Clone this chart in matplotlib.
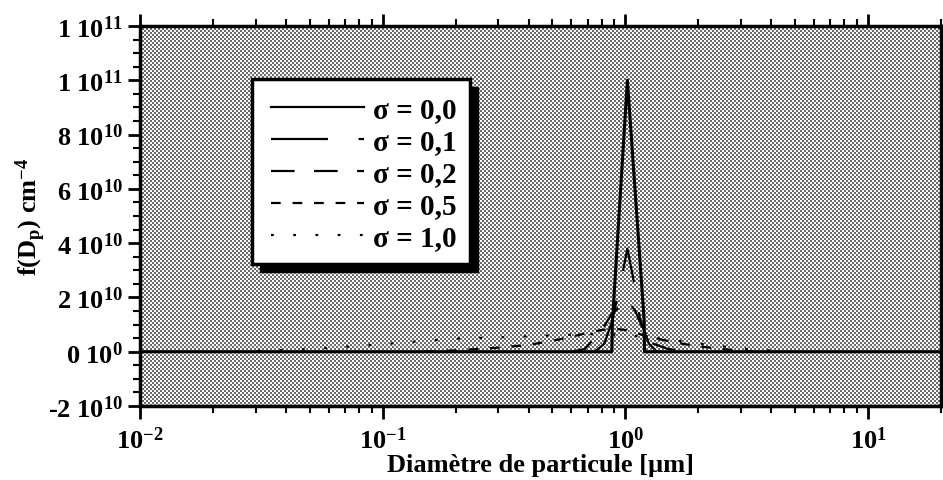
import numpy as np
import matplotlib
matplotlib.use("Agg")
import matplotlib.pyplot as plt
from matplotlib.ticker import MultipleLocator, FuncFormatter, LogLocator
from matplotlib.patches import Rectangle

plt.rcParams["font.family"] = ["Liberation Serif", "DejaVu Serif"]
plt.rcParams["font.weight"] = "bold"
plt.rcParams["mathtext.fontset"] = "custom"
plt.rcParams["mathtext.rm"] = "Liberation Serif:bold"
plt.rcParams["mathtext.it"] = "Liberation Serif:bold"
plt.rcParams["mathtext.default"] = "rm"
plt.rcParams["lines.scale_dashes"] = False

# --- données (D en µm, f(Dp) en cm^-4) ---
d_s00 = [0.01, 0.88, 0.885, 1.02, 1.195, 1.2, 20]
f_s00 = [0, 0, 1.1e10, 1.0e11, 1.2e10, 0, 0]

d_s01 = [0.75, 0.82, 0.88, 0.95, 1.02, 1.1, 1.15, 1.25, 1.35]
f_s01 = [0, 3e9, 1.1e10, 2.4e10, 3.8e10, 2.3e10, 1.2e10, 3e9, 0]

d_s02 = [0.6, 0.68, 0.8, 0.88, 1.02, 1.1, 1.2, 1.3, 1.5, 1.8]
f_s02 = [0, 1e9, 8e9, 1.4e10, 1.9e10, 1.5e10, 7e9, 3e9, 1e9, 0]

d_s05 = [0.15, 0.2, 0.3, 0.4, 0.5, 0.6, 0.7, 0.8, 0.9, 1.0, 1.2, 1.4, 1.7, 2.0, 2.5, 3.0, 3.5]
f_s05 = [0, 5e8, 1.5e9, 2.5e9, 4e9, 5.5e9, 7e9, 8e9, 8.5e9, 8e9, 6e9, 4.5e9, 3e9, 2e9, 1e9, 4e8, 0]

d_s10 = [0.02, 0.03, 0.05, 0.07, 0.1, 0.15, 0.2, 0.3, 0.5, 0.7, 1.0, 1.5, 2.0, 3.0, 4.0, 5.0]
f_s10 = [0, 3e8, 1e9, 1.8e9, 2.8e9, 4e9, 4.8e9, 5.3e9, 6e9, 6.5e9, 6.2e9, 4.5e9, 3e9, 1.2e9, 4e8, 0]

labels = ["σ = 0,0", "σ = 0,1", "σ = 0,2", "σ = 0,5", "σ = 1,0"]
series = [(d_s00, f_s00), (d_s01, f_s01), (d_s02, f_s02), (d_s05, f_s05), (d_s10, f_s10)]
dashes = [None, (41, 22), (17, 14), (7, 8.5), (2, 14)]


def y_fmt(v, pos):
    if v == 0:
        return r"0 10$^{0}$"
    e = int(np.floor(np.log10(abs(v))))
    m = v / 10 ** e
    return f"{m:.0f} 10$^{{{e}}}$"


def x_fmt(v, pos):
    e = int(round(np.log10(v)))
    return f"10$^{{{e}}}$"


fig = plt.figure(figsize=(9.43, 4.81), dpi=100)
ax = fig.add_axes([140 / 943, 1 - 407 / 481, 801 / 943, 380 / 481])

# trame grise (fond pointillé du graphique d'origine)
ii, jj = np.indices((380, 801))
tex = np.where(((ii // 2) + (jj // 2)) % 2 == 0, 0.42, 0.98)
ax.imshow(tex, cmap="gray", vmin=0, vmax=1, extent=(0, 1, 0, 1), transform=ax.transAxes,
          aspect="auto", interpolation="nearest", zorder=0)

lines = []
for (d, f), lab, ds in zip(series, labels, dashes):
    ln, = ax.plot(d, f, color="black", lw=1.6, label=lab, zorder=3)
    if ds is not None:
        ln.set_dashes(ds)
    lines.append(ln)
lines[0].set_linewidth(2.2)

ax.set_xscale("log")
ax.set_xlim(0.01, 20)
ax.set_ylim(-2e10, 1.2e11)
ax.yaxis.set_major_locator(MultipleLocator(2e10))
ax.yaxis.set_minor_locator(MultipleLocator(5e9))
ax.yaxis.set_major_formatter(FuncFormatter(y_fmt))
ax.xaxis.set_major_locator(LogLocator(base=10))
ax.xaxis.set_minor_locator(LogLocator(base=10, subs=np.arange(2, 10)))
ax.xaxis.set_major_formatter(FuncFormatter(x_fmt))

ax.tick_params(axis="both", which="major", direction="out", length=9, width=2,
               labelsize=19, top=True, right=True)
ax.tick_params(axis="both", which="minor", direction="out", length=5, width=1.5,
               top=True, right=True)
ax.tick_params(axis="x", pad=6)
ax.tick_params(axis="y", pad=3)
for s in ax.spines.values():
    s.set_linewidth(2.5)

ax.set_xlabel("Diamètre de particule [µm]", fontsize=19, fontweight="bold", labelpad=0)
ax.set_ylabel(r"f(D$_{\rm p}$) cm$^{-4}$", fontsize=19, fontweight="bold", labelpad=0)

# cadre de légende avec ombre noire
bx0, bx1, by0, by1 = 252 / 943, 470 / 943, 1 - 265 / 481, 1 - 80 / 481
fig.patches.append(Rectangle((bx0 + 8 / 943, by0 - 8 / 481), bx1 - bx0, by1 - by0,
                             transform=fig.transFigure, facecolor="black",
                             edgecolor="black", zorder=5))
fig.patches.append(Rectangle((bx0, by0), bx1 - bx0, by1 - by0,
                             transform=fig.transFigure, facecolor="white",
                             edgecolor="black", lw=2.5, zorder=6))
leg = fig.legend(handles=lines, loc="upper left", bbox_to_anchor=(bx0 + 19 / 943, by1 - 17 / 481),
                 frameon=False, fontsize=21, handlelength=3.2, handletextpad=0.3,
                 labelspacing=0.17, borderpad=0.0, borderaxespad=0.0)
leg.set_zorder(7)
for h in leg.get_lines():
    h.set_linewidth(1.6)

fig.savefig("out.png", dpi=100)
